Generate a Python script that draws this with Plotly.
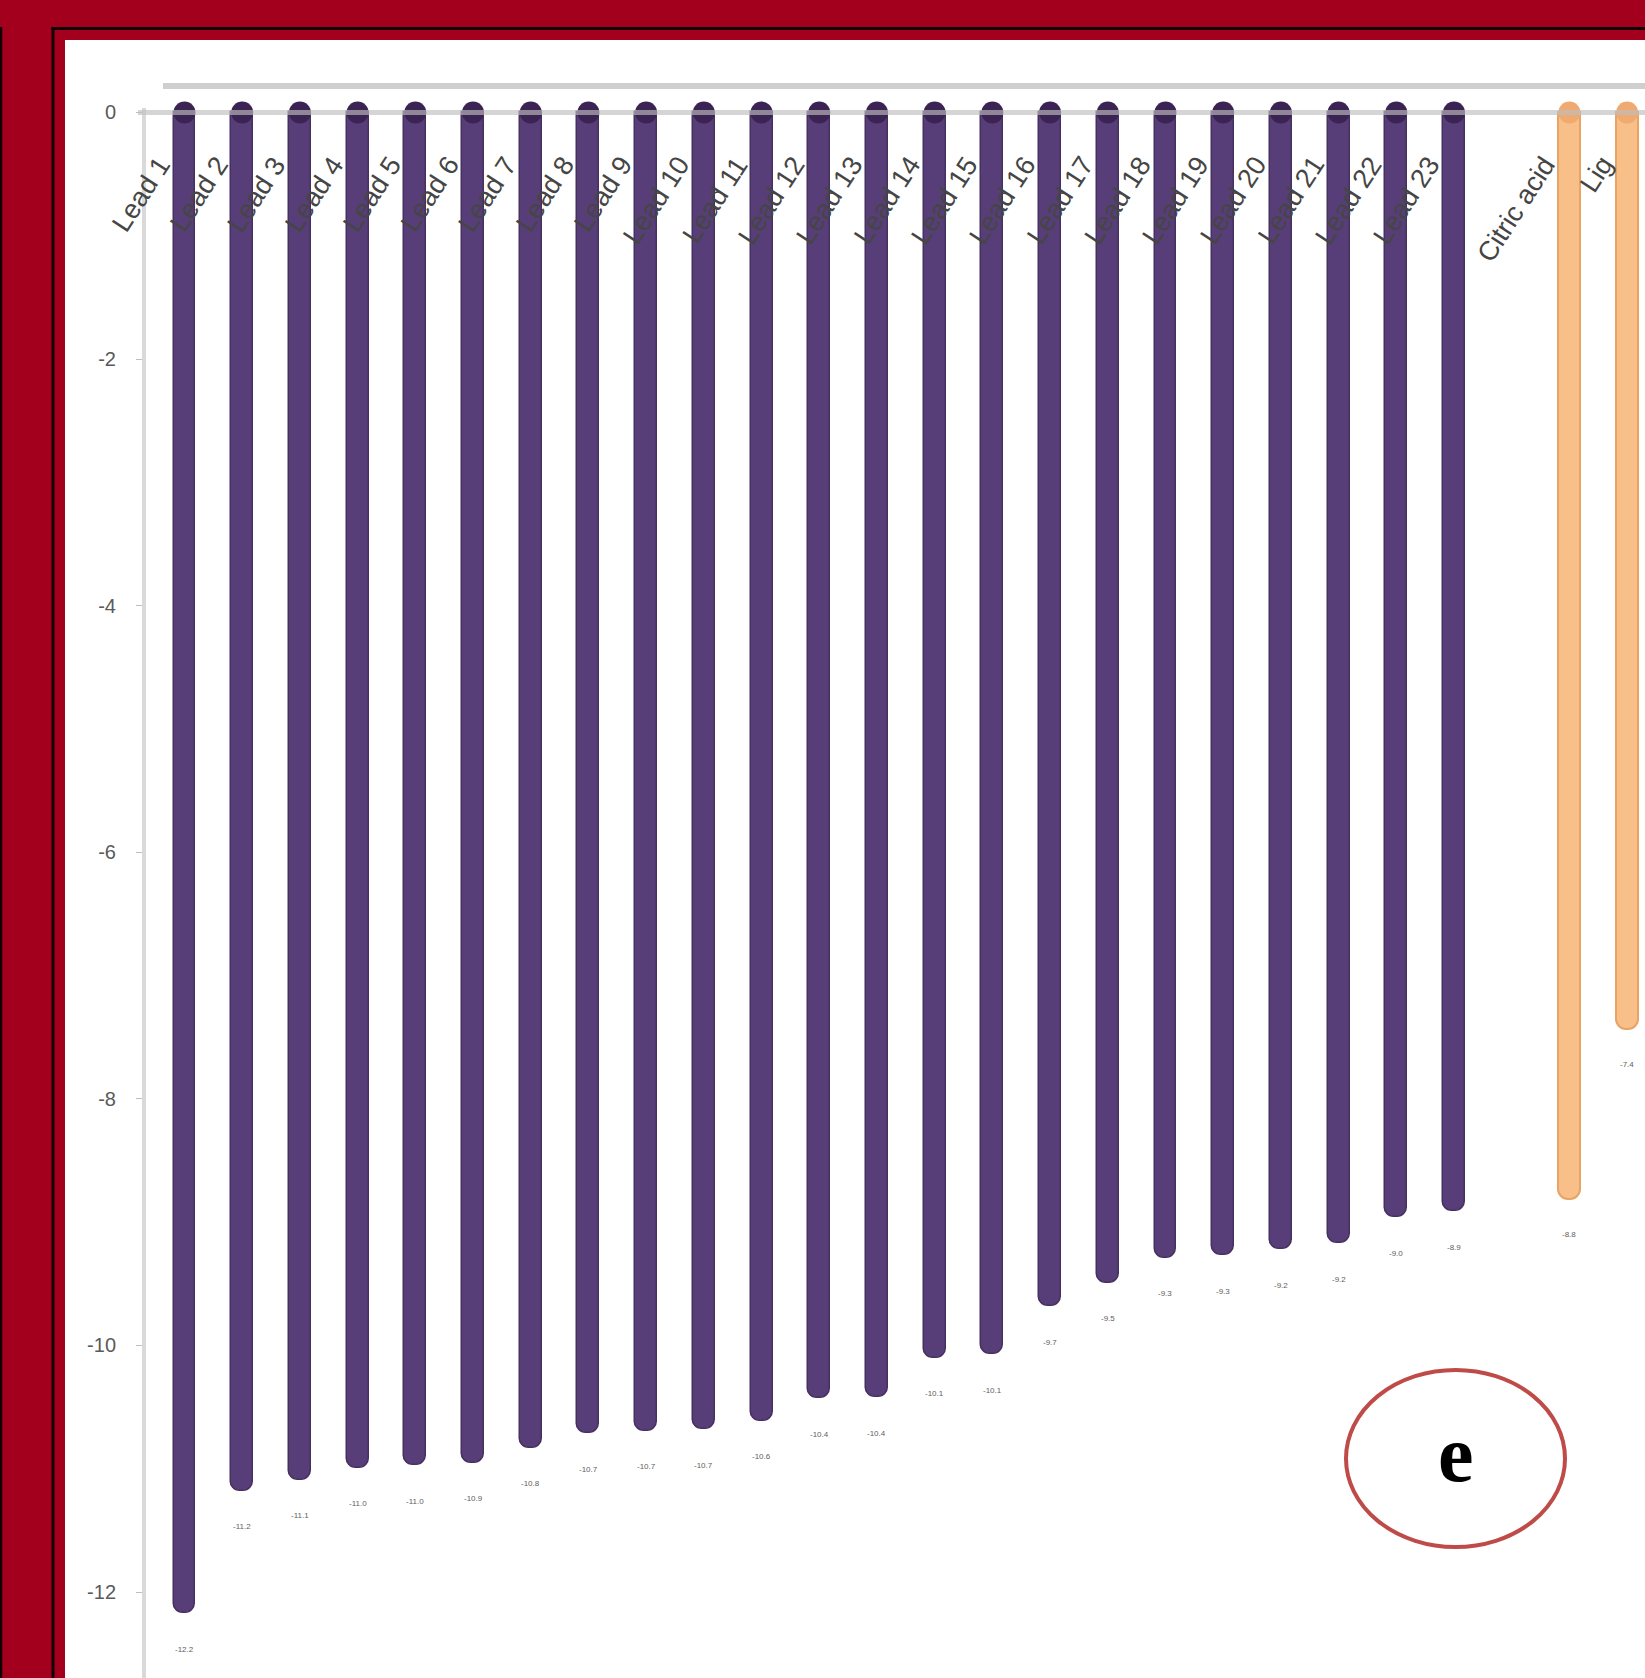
import plotly.graph_objects as go

# ---------------- data ----------------
lead_labels = ["Lead 1", "Lead 2", "Lead 3", "Lead 4", "Lead 5", "Lead 6", "Lead 7",
               "Lead 8", "Lead 9", "Lead 10", "Lead 11", "Lead 12", "Lead 13", "Lead 14",
               "Lead 15", "Lead 16", "Lead 17", "Lead 18", "Lead 19", "Lead 20",
               "Lead 21", "Lead 22", "Lead 23"]
lead_values = [-12.17, -11.18, -11.09, -10.99, -10.97, -10.95, -10.83, -10.71, -10.69,
               -10.68, -10.61, -10.43, -10.42, -10.10, -10.07, -9.68, -9.49, -9.29,
               -9.27, -9.22, -9.17, -8.96, -8.91]
ref_labels = ["Citric acid", "Lig"]
ref_values = [-8.81, -7.43]
gap_label = [" "]
categories = lead_labels + gap_label + ref_labels

ytick_vals = [0, -2, -4, -6, -8, -10, -12]
ytick_text = ["0", "-2", "-4", "-6", "-8", "-10", "-12"]

# ---------------- layout geometry (pixels) ----------------
W, H = 1645, 1678
ML, MT = 146, 108
PW, PH = W - ML, H - MT


def px(x):
    return (x - ML) / PW


def py(y):
    return 1 - (y - MT) / PH


PURPLE = "#583E78"
PURPLE_EDGE = "#45305F"
PURPLE_CAP = "#3B2453"
ORANGE = "#F9BF88"
ORANGE_EDGE = "#E8A366"
ORANGE_CAP = "#EEAA70"
RED = "#A3001E"

fig = go.Figure()

fig.add_trace(go.Bar(
    x=lead_labels, y=lead_values, width=0.38,
    marker=dict(color=PURPLE, line=dict(color=PURPLE_EDGE, width=1.5), cornerradius=10),
    showlegend=False, hoverinfo="x+y"))
fig.add_trace(go.Bar(
    x=ref_labels, y=ref_values, width=0.38,
    marker=dict(color=ORANGE, line=dict(color=ORANGE_EDGE, width=2), cornerradius=10),
    showlegend=False, hoverinfo="x+y"))

# cylinder caps at the base of each bar
fig.add_trace(go.Scatter(
    x=lead_labels, y=[0] * len(lead_labels), mode="markers", cliponaxis=False,
    marker=dict(symbol="circle", size=22, color=PURPLE_CAP, line=dict(width=0)),
    showlegend=False, hoverinfo="skip"))
fig.add_trace(go.Scatter(
    x=ref_labels, y=[0] * len(ref_labels), mode="markers", cliponaxis=False,
    marker=dict(symbol="circle", size=22, color=ORANGE_CAP, line=dict(width=0)),
    showlegend=False, hoverinfo="skip"))

annotations = []
# category labels (rotated, drawn just under the floor line)
for lab in lead_labels + ref_labels:
    annotations.append(dict(
        x=lab, y=0, xref="x", yref="y", text=lab, showarrow=False,
        textangle=-57, xanchor="right", yanchor="top", xshift=-5, yshift=-36,
        font=dict(family="Liberation Sans, Arial", size=27, color="#454545")))
# value labels under each bar
for lab, v in zip(lead_labels + ref_labels, lead_values + ref_values):
    annotations.append(dict(
        x=lab, y=v, xref="x", yref="y", text=f"{v:.1f}", showarrow=False,
        yshift=-36, font=dict(family="Liberation Sans, Arial", size=8, color="#5E5E5E")))
# panel letter
annotations.append(dict(
    x=px(1456), y=py(1459), xref="paper", yref="paper", text="<b>e</b>",
    xanchor="center", yanchor="middle", yshift=5,
    showarrow=False, font=dict(family="Liberation Serif, Times New Roman", size=80, color="#000000")))

shapes = [
    # white panel inside red frame
    dict(type="rect", xref="paper", yref="paper", x0=px(65), x1=px(W + 5), y0=py(H + 5), y1=py(40),
         fillcolor="white", line=dict(width=0), layer="below"),
    # black frame lines
    dict(type="line", xref="paper", yref="paper", x0=px(53), x1=px(53), y0=py(27), y1=py(H + 5),
         line=dict(color="#120000", width=3), layer="below"),
    dict(type="line", xref="paper", yref="paper", x0=px(51.5), x1=px(W + 5), y0=py(28.5), y1=py(28.5),
         line=dict(color="#120000", width=3), layer="below"),
    dict(type="line", xref="paper", yref="paper", x0=px(1), x1=px(1), y0=py(27), y1=py(H + 5),
         line=dict(color="#120000", width=2.5), layer="below"),
    # back-wall edge of the 3D chart
    dict(type="line", xref="paper", yref="paper", x0=px(163), x1=px(W + 5), y0=py(86), y1=py(86),
         line=dict(color="#CFCFCF", width=6), layer="below"),
    # floor edge (crosses the bars)
    dict(type="line", xref="paper", yref="y", x0=px(138), x1=px(W + 5), y0=0, y1=0,
         line=dict(color="rgba(190,190,190,0.65)", width=5), layer="above"),
    # red ellipse around the panel letter
    dict(type="circle", xref="paper", yref="paper", x0=px(1346), x1=px(1565), y0=py(1547), y1=py(1370),
         line=dict(color="#BE4B48", width=4), fillcolor="rgba(0,0,0,0)", layer="above"),
]

fig.update_layout(
    width=W, height=H, autosize=False,
    margin=dict(l=ML, r=0, t=MT, b=0, pad=0),
    paper_bgcolor=RED, plot_bgcolor="white",
    barmode="overlay", bargap=0,
    showlegend=False,
    annotations=annotations, shapes=shapes,
    xaxis=dict(type="category", categoryorder="array", categoryarray=categories,
               range=[-0.667, 25.31], showticklabels=False, showgrid=False,
               zeroline=False, showline=False, ticks=""),
    yaxis=dict(range=[-12.697, 0.036], tickvals=ytick_vals, ticktext=ytick_text,
               tickangle=0, ticks="outside", ticklen=6, tickcolor="#BFBFBF", tickwidth=1,
               showline=True, linecolor="#D9D9D9", linewidth=4, showgrid=False, zeroline=False,
               ticklabelstandoff=16,
               tickfont=dict(family="Liberation Sans, Arial", size=20, color="#5A5A5A")),
)

fig.write_html("out.html")
